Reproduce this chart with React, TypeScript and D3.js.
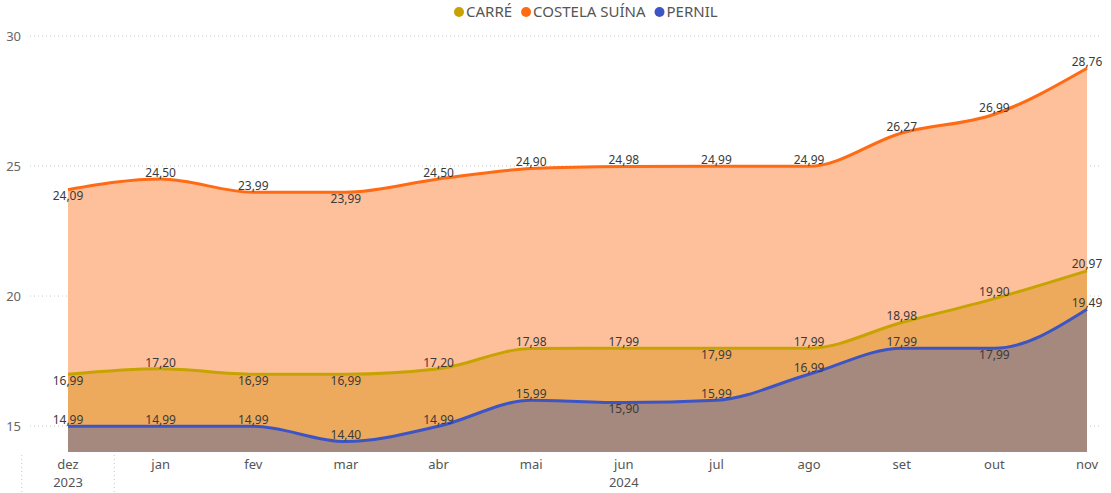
import { useEffect, useRef } from 'react'
import * as d3 from 'd3'

const months = ['dez', 'jan', 'fev', 'mar', 'abr', 'mai', 'jun', 'jul', 'ago', 'set', 'out', 'nov']
const years = [
  { label: '2023', from: 'dez', to: 'dez' },
  { label: '2024', from: 'jan', to: 'nov' },
]
const carre = [16.99, 17.2, 16.99, 16.99, 17.2, 17.98, 17.99, 17.99, 17.99, 18.98, 19.9, 20.97]
const costela = [24.09, 24.5, 23.99, 23.99, 24.5, 24.9, 24.98, 24.99, 24.99, 26.27, 26.99, 28.76]
const pernil = [14.99, 14.99, 14.99, 14.4, 14.99, 15.99, 15.9, 15.99, 16.99, 17.99, 17.99, 19.49]
const yTicks = [15, 20, 25, 30]

// label placement (a = above, b = below), like the Power BI layout
const carrePos = 'babbaaabaaaa'
const costelaPos = 'baabaaaaaaaa'
const pernilPos = 'aaaaaabaaaba'

const series = [
  { name: 'COSTELA SUÍNA', values: costela, pos: costelaPos, line: '#FF6A13', fill: '#FEC09B' },
  { name: 'CARRÉ', values: carre, pos: carrePos, line: '#C6A300', fill: '#EEAA5C' },
  { name: 'PERNIL', values: pernil, pos: pernilPos, line: '#3D55C4', fill: '#A5887E' },
]
const legendOrder = ['CARRÉ', 'COSTELA SUÍNA', 'PERNIL']

const fmt = (v: number) => v.toFixed(2).replace('.', ',')
const font = "'Segoe UI', 'Noto Sans', sans-serif"

function App() {
  const ref = useRef<SVGSVGElement>(null)

  useEffect(() => {
    const width = 1111
    const height = 493
    const svg = d3.select(ref.current)
    svg.selectAll('*').remove()
    svg.attr('width', width).attr('height', height).style('font-family', font)

    const x = d3.scalePoint<string>().domain(months).range([68, 1087])
    const y = d3.scaleLinear().domain([14, 30]).range([452, 36])
    const step = x.step()

    // gridlines + y labels
    yTicks.forEach(t => {
      svg.append('line')
        .attr('x1', 30).attr('x2', 1100)
        .attr('y1', y(t)).attr('y2', y(t))
        .attr('stroke', '#c8c8c8').attr('stroke-dasharray', '1,3')
      svg.append('text')
        .attr('x', 21).attr('y', y(t)).attr('dy', '0.35em')
        .attr('text-anchor', 'end')
        .style('font-size', '13px').style('fill', '#666')
        .text(t)
    })

    // areas
    series.forEach(s => {
      const area = d3.area<number>()
        .x((d, i) => x(months[i])!)
        .y0(y(14))
        .y1(d => y(d))
        .curve(d3.curveMonotoneX)
      svg.append('path').attr('d', area(s.values)!).attr('fill', s.fill)
    })

    // lines
    series.forEach(s => {
      const line = d3.line<number>()
        .x((d, i) => x(months[i])!)
        .y(d => y(d))
        .curve(d3.curveMonotoneX)
      svg.append('path').attr('d', line(s.values)!)
        .attr('fill', 'none').attr('stroke', s.line).attr('stroke-width', 3)
    })

    // data labels
    series.forEach(s => {
      s.values.forEach((v, i) => {
        const above = s.pos[i] === 'a'
        svg.append('text')
          .attr('x', x(months[i])!)
          .attr('y', y(v) + (above ? -6.5 : 6.5))
          .attr('dy', '0.35em')
          .attr('text-anchor', 'middle')
          .style('font-size', '12px').style('fill', '#3a3a3a')
          .text(fmt(v))
      })
    })

    // x axis
    months.forEach(m => {
      svg.append('text')
        .attr('x', x(m)!).attr('y', 464).attr('dy', '0.35em')
        .attr('text-anchor', 'middle')
        .style('font-size', '13px').style('fill', '#555')
        .text(m)
    })
    years.forEach(yr => {
      const x0 = x(yr.from)! - step / 2
      const x1 = x(yr.to)! + step / 2
      svg.append('text')
        .attr('x', (x0 + x1) / 2).attr('y', 482).attr('dy', '0.35em')
        .attr('text-anchor', 'middle')
        .style('font-size', '13px').style('fill', '#555')
        .text(yr.label)
      svg.append('line')
        .attr('x1', x0).attr('x2', x0).attr('y1', 455).attr('y2', 493)
        .attr('stroke', '#c8c8c8').attr('stroke-dasharray', '1,3')
    })

    // legend
    const legend = svg.append('g').attr('transform', 'translate(454,0)')
    let lx = 0
    legendOrder.forEach(name => {
      const s = series.find(d => d.name === name)!
      legend.append('circle').attr('cx', lx + 5).attr('cy', 12).attr('r', 5).attr('fill', s.line)
      const t = legend.append('text')
        .attr('x', lx + 12).attr('y', 12).attr('dy', '0.35em')
        .style('font-size', '15px').style('fill', '#555')
        .text(name)
      lx += 12 + (t.node() as SVGTextElement).getComputedTextLength() + 9
    })
  }, [])

  return (
    <div style={{ position: 'fixed', left: 0, top: 0, background: '#fff' }}>
      <svg ref={ref} />
    </div>
  )
}

export default App
